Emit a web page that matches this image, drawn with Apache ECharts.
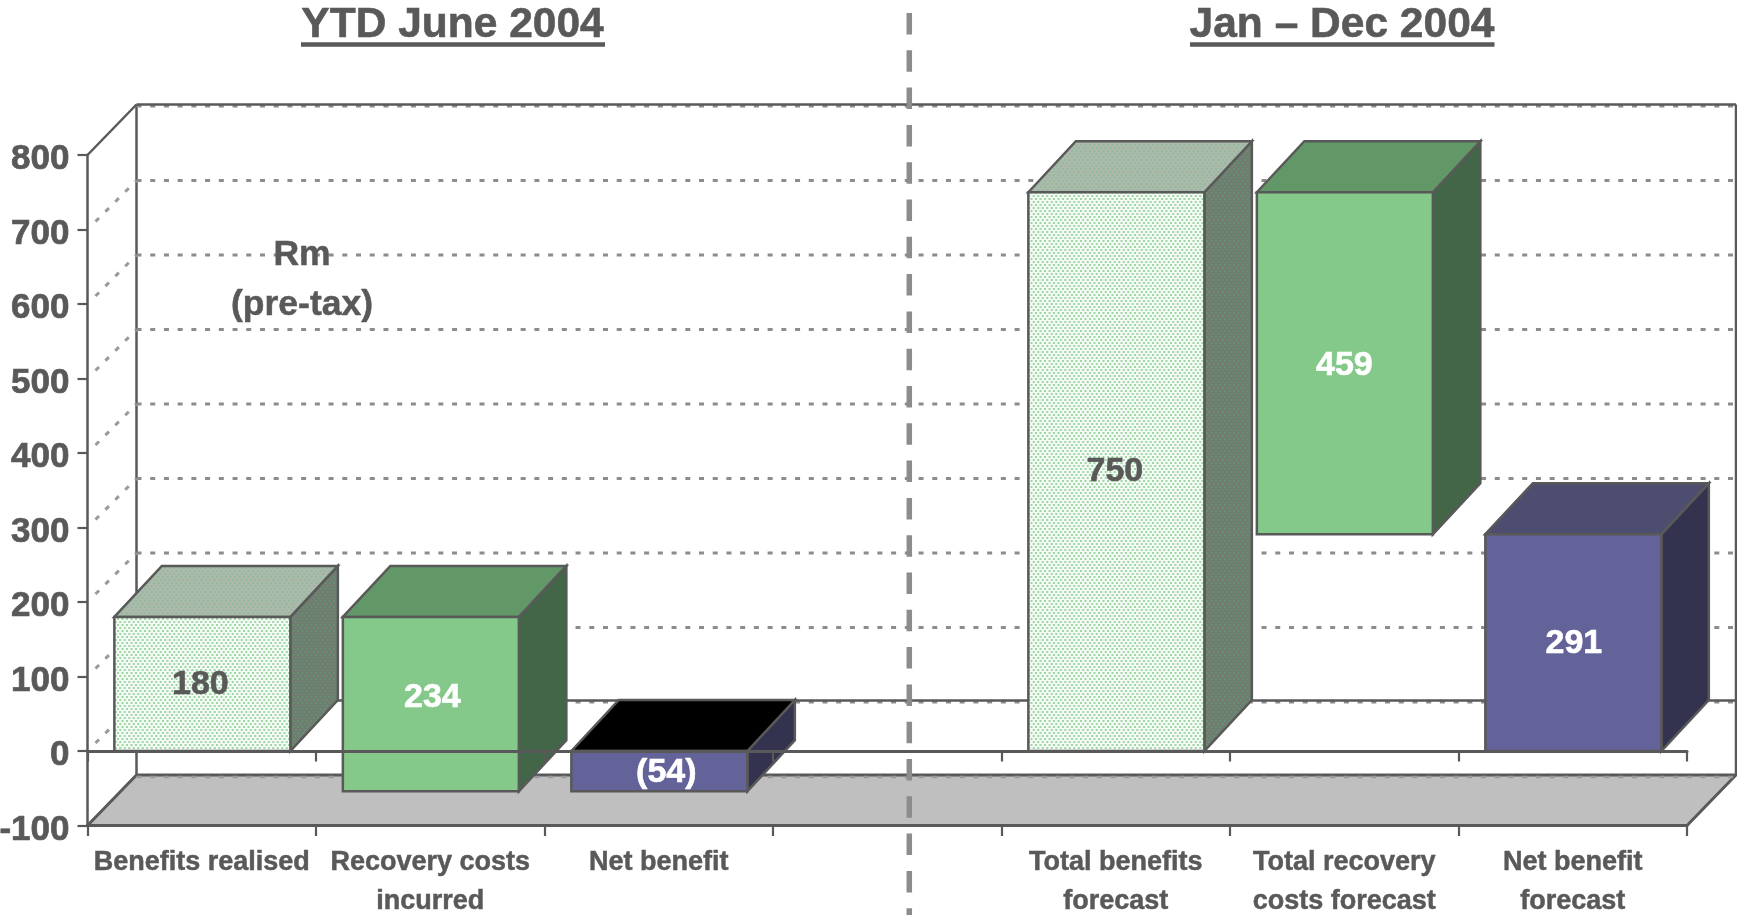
<!DOCTYPE html>
<html>
<head>
<meta charset="utf-8">
<style>html,body{margin:0;padding:0;background:#fff}#c{width:1737px;height:915px}</style>
<script src="https://cdn.jsdelivr.net/npm/echarts@6/dist/echarts.min.js"></script>
</head>
<body>
<div id="c"></div>
<script>
// ---- data ----
const categories = ['Benefits realised', 'Recovery costs\nincurred', 'Net benefit', '', 'Total benefits\nforecast', 'Total recovery\ncosts forecast', 'Net benefit\nforecast'];
const barCategoryIndex = [0, 1, 2, 4, 5, 6];
const barLow = [0, -54, -54, 0, 291, 0];
const barHigh = [180, 180, 0, 750, 750, 291];
const barLabels = ['180', '234', '(54)', '750', '459', '291'];
const barSkins = ['dots', 'green', 'purpleBlack', 'dots', 'green', 'purple'];
const yMin = -100;
const yMax = 800;
const yStep = 100;
const yTicks = [-100, 0, 100, 200, 300, 400, 500, 600, 700, 800];
const headings = ['YTD June 2004', 'Jan \u2013 Dec 2004'];
const unitNote = 'Rm\n(pre-tax)';

// ---- style ----
const FONT = '"Liberation Sans", Arial, sans-serif';
const INK = '#595959';
const DOT_GREY = '#8c8c8c';
const WALL_DX = 49, WALL_DY = 49, SOLID_DY = 50.5;
const BAR_DX = 47.5, BAR_DY = 51;
const BAR_FRACTION = 176 / 228.5;
const LABEL_NUDGE = [[-2, 1], [1.5, -6], [7, 2], [-1.5, 0], [-0.5, 2], [0.5, 1]];

function dotted(bg, dot) {
  const c = document.createElement('canvas');
  c.width = 9; c.height = 6;
  const g = c.getContext('2d');
  g.fillStyle = bg; g.fillRect(0, 0, 9, 6);
  g.fillStyle = dot;
  [[0, 0], [4.5, 0], [2.25, 3], [6.75, 3]].forEach(p => g.fillRect(p[0], p[1], 2, 2));
  return { image: c, repeat: 'repeat' };
}
const skins = {
  dots: {
    front: dotted('#f4faf4', '#9ed6a6'),
    top: dotted('#adb9ad', '#92ba9b'),
    side: dotted('#717b71', '#64906f'),
    text: INK
  },
  green: { front: '#84c88a', top: '#629868', side: '#426647', text: '#ffffff' },
  purple: { front: '#636399', top: '#4d4d6f', side: '#33334f', text: '#ffffff' },
  purpleBlack: { front: '#636399', top: '#000000', side: '#33334f', text: '#ffffff' }
};

function poly(points, fill) {
  return { type: 'polygon', shape: { points }, style: { fill, stroke: INK, lineWidth: 2.5, lineJoin: 'miter' } };
}

function renderBar(params, api) {
  const i = params.dataIndex;
  const cat = api.value(0);
  const band = api.size([1, 0])[0];
  const w = band * BAR_FRACTION;
  const cx = api.coord([cat, 0])[0] + 0.6;
  const yHi = api.coord([cat, api.value(2)])[1];
  const yLo = api.coord([cat, api.value(1)])[1];
  const x0 = cx - w / 2, x1 = cx + w / 2;
  const s = skins[barSkins[i]];
  return {
    type: 'group',
    children: [
      poly([[x1, yHi], [x1 + BAR_DX, yHi - BAR_DY], [x1 + BAR_DX, yLo - BAR_DY], [x1, yLo]], s.side),
      poly([[x0, yHi], [x0 + BAR_DX, yHi - BAR_DY], [x1 + BAR_DX, yHi - BAR_DY], [x1, yHi]], s.top),
      poly([[x0, yHi], [x1, yHi], [x1, yLo], [x0, yLo]], s.front),
      {
        type: 'text',
        z2: 5,
        style: {
          text: barLabels[i], x: cx + LABEL_NUDGE[i][0], y: (yHi + yLo) / 2 + LABEL_NUDGE[i][1],
          fill: s.text, stroke: s.text, lineWidth: 0.6,
          font: 'bold 34px ' + FONT, align: 'center', verticalAlign: 'middle'
        }
      }
    ]
  };
}

function line(x1, y1, x2, y2, style) {
  return { type: 'line', shape: { x1, y1, x2, y2 }, style: Object.assign({ fill: null }, style) };
}
const solid = { stroke: INK, lineWidth: 2.5 };
const dashed = { stroke: DOT_GREY, lineWidth: 3, lineDash: [5, 8.72] };
const sideDash = { stroke: '#9a9a9a', lineWidth: 3, lineDash: [5, 9] };

function renderWall(params, api) {
  const v = api.value(1);
  const g = params.coordSys;
  const y = api.coord([0, v])[1];
  const xa = g.x, xb = g.x + g.width;
  const kids = [];
  if (v !== yMin) {
    kids.push(line(xa + WALL_DX, y - WALL_DY, xb + WALL_DX, y - WALL_DY, dashed));
  }
  if (v === yMax || v === 0) {
    kids.push(line(xa + WALL_DX, y - SOLID_DY, xb + WALL_DX, y - SOLID_DY, solid));
  }
  if (v === yMax) {
    kids.push(line(xa, y, xa + WALL_DX, y - SOLID_DY, solid));
  } else if (v !== yMin) {
    kids.push(line(xa + 8, y - 8, xa + WALL_DX, y - WALL_DY, sideDash));
  }
  return { type: 'group', children: kids };
}

function renderFloor(params, api) {
  const g = params.coordSys;
  const yFront = api.coord([0, yMin])[1];
  const yTop = api.coord([0, yMax])[1];
  const xa = g.x, xb = g.x + g.width;
  const yBack = yFront - SOLID_DY;
  return {
    type: 'group',
    children: [
      { type: 'polygon', shape: { points: [[xa, yFront], [xa + WALL_DX, yBack], [xb + WALL_DX, yBack], [xb, yFront]] },
        style: { fill: '#bfbfbf', stroke: INK, lineWidth: 3 } },
      line(xa + WALL_DX, yBack + 1.9, xb + WALL_DX, yBack + 1.9, { stroke: '#999999', lineWidth: 2.5, lineDash: [5, 8.72] }),
      line(xa + WALL_DX, yTop - SOLID_DY, xa + WALL_DX, yBack, solid),
      line(xb + WALL_DX, yTop - SOLID_DY, xb + WALL_DX, yBack, solid)
    ]
  };
}

const baseXAxis = {
  type: 'category',
  data: categories,
  boundaryGap: true,
  z: 10,
  axisTick: { show: true, alignWithLabel: false, interval: 0, length: 10.5, lineStyle: { color: INK, width: 2.2 } },
  splitLine: { show: false }
};

const chart = echarts.init(document.getElementById('c'), null, { renderer: 'canvas' });
chart.setOption({
  animation: false,
  backgroundColor: '#ffffff',
  tooltip: { show: false },
  legend: { show: false },
  grid: { left: 87.5, right: 50, top: 155, bottom: 89.5, containLabel: false, outerBoundsMode: 'none' },
  xAxis: [
    Object.assign({}, baseXAxis, {
      position: 'bottom',
      axisLine: { show: true, onZero: false, lineStyle: { color: INK, width: 3 } },
      axisLabel: {
        show: true, interval: 0, margin: 17.5, color: INK, fontFamily: FONT, fontWeight: 'bold',
        fontSize: 27, lineHeight: 39, align: 'center', hideOverlap: false,
        textBorderColor: INK, textBorderWidth: 0.5
      }
    }),
    Object.assign({}, baseXAxis, {
      position: 'bottom',
      axisLine: { show: true, onZero: true, lineStyle: { color: INK, width: 3 } },
      axisLabel: { show: false }
    })
  ],
  yAxis: {
    type: 'value',
    min: yMin,
    max: yMax,
    interval: yStep,
    z: 10,
    axisLine: { show: true, onZero: false, lineStyle: { color: INK, width: 2.5 } },
    axisTick: { show: true, length: 10, lineStyle: { color: INK, width: 2.2 } },
    axisLabel: {
      show: true, margin: 18, color: INK, fontFamily: FONT, fontWeight: 'bold', fontSize: 35,
      verticalAlign: 'top', lineHeight: 9, hideOverlap: false,
      textBorderColor: INK, textBorderWidth: 0.7
    },
    splitLine: { show: false }
  },
  series: [
    { type: 'custom', name: 'floor', z: 1, silent: true, xAxisIndex: 0, yAxisIndex: 0,
      encode: { x: 0, y: 1 }, data: [[0, yMin]], renderItem: renderFloor },
    { type: 'custom', name: 'wall', z: 2, silent: true, xAxisIndex: 0, yAxisIndex: 0,
      encode: { x: 0, y: 1 }, data: yTicks.map(v => [0, v]), renderItem: renderWall },
    { type: 'custom', name: 'bars', z: 3, silent: true, xAxisIndex: 0, yAxisIndex: 0,
      encode: { x: 0, y: [1, 2] },
      data: barCategoryIndex.map((c, i) => [c, barLow[i], barHigh[i]]), renderItem: renderBar }
  ],
  graphic: { elements: [
    { type: 'text', z: 20, silent: true, style: { text: headings[0], x: 452.5, y: 25, fill: INK, stroke: INK, lineWidth: 0.6, font: 'bold 42.5px ' + FONT, align: 'center', verticalAlign: 'middle' } },
    { type: 'text', z: 20, silent: true, style: { text: headings[1], x: 1342, y: 25, fill: INK, stroke: INK, lineWidth: 0.6, font: 'bold 42.5px ' + FONT, align: 'center', verticalAlign: 'middle' } },
    { type: 'rect', z: 20, silent: true, shape: { x: 301, y: 42.3, width: 304, height: 4.4 }, style: { fill: INK } },
    { type: 'rect', z: 20, silent: true, shape: { x: 1190, y: 42.3, width: 304.5, height: 4.4 }, style: { fill: INK } },
    { type: 'text', z: 20, silent: true, style: { text: unitNote, x: 302, y: 280.5, fill: INK, stroke: INK, lineWidth: 0.5, font: 'bold 35.5px ' + FONT, lineHeight: 50, align: 'center', verticalAlign: 'middle' } },
    { type: 'line', z: 20, silent: true, shape: { x1: 909.3, y1: 13, x2: 909.3, y2: 915 }, style: { stroke: DOT_GREY, lineWidth: 5.5, lineDash: [21.5, 15.8] } }
  ] }
});
</script>
</body>
</html>
